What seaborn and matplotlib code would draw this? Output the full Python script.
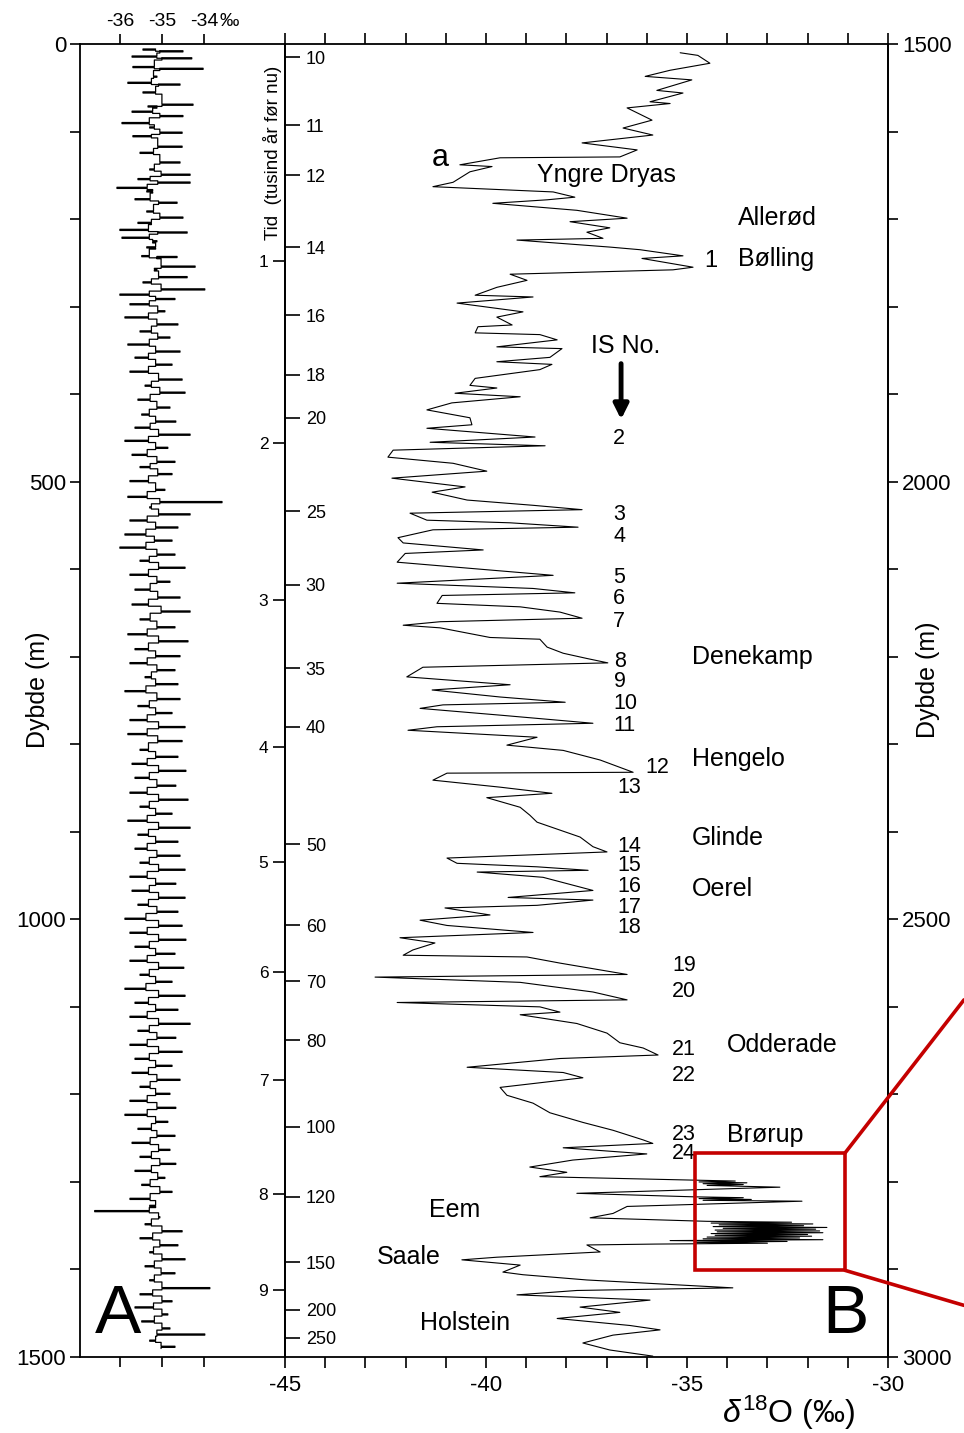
import numpy as np
import pandas as pd
import matplotlib
matplotlib.use("Agg")
import matplotlib.pyplot as plt
from matplotlib.patches import Rectangle
from matplotlib.ticker import MultipleLocator, NullLocator
import seaborn as sns

# ---------------- data: panel A (depth 0-1500 m) ----------------
# depth of each excursion, its extreme value and the central value of the trace there
a_depth = [7, 9, 15, 17, 27, 29, 38, 45, 47, 56,
           70, 72, 78, 83, 91, 96, 102, 106, 118, 125,
           136, 144, 150, 155, 159, 165, 169, 178, 182, 192,
           199, 205, 213, 216, 222, 226, 233, 243, 244, 255,
           258, 267, 273, 281, 287,
           292, 298, 306, 313, 321, 329, 336, 344, 352, 359,
           367, 375, 384, 391, 399, 407, 416, 424, 432, 439,
           447, 454, 462, 470, 478, 484, 492, 500, 510, 518,
           524, 530, 538, 545, 553, 561, 568, 576, 584, 591,
           599, 607, 615, 624, 633, 641, 649, 658, 667, 675,
           683, 692, 700, 708, 716, 724, 732, 740, 749, 757,
           765, 773, 781, 789, 797, 807, 815, 823, 831, 839,
           848, 856, 864, 872, 880, 888, 896, 904, 912, 920,
           928, 936, 944, 952, 960, 968, 976, 984, 992, 1000,
           1008, 1016, 1024, 1032, 1040, 1048, 1056, 1064, 1072, 1080,
           1088, 1096, 1104, 1112, 1120, 1128, 1136, 1144, 1152, 1160,
           1168, 1176, 1184, 1192, 1200, 1208, 1216, 1224, 1232, 1240,
           1248, 1256, 1264, 1272, 1280, 1288, 1296, 1304, 1312, 1320,
           1328, 1334, 1341, 1349, 1357, 1365, 1373, 1381, 1389, 1397,
           1405, 1413, 1422, 1429, 1437, 1444, 1452, 1460, 1468, 1475,
           1482, 1489]
a_value = [-35.45, -34.50, -35.71, -34.29, -35.69, -34.02, -35.12, -35.81, -34.57, -35.45,
           -34.26, -35.33, -35.71, -34.50, -35.95, -35.29, -34.52, -35.69, -34.52, -35.52,
           -34.57, -35.29, -34.33, -35.57, -34.33, -36.07, -35.36, -35.64, -34.64, -35.36,
           -34.50, -35.57, -36.00, -34.40, -35.95, -35.12, -35.36, -35.48, -34.64, -34.21,
           -35.12, -34.40, -35.45, -33.98, -36.00,
           -34.69, -35.76, -34.93, -35.88, -34.62, -35.52, -34.81, -35.81, -34.57, -35.64,
           -34.76, -35.76, -34.52, -35.40, -34.45, -35.57, -34.81, -35.48, -34.67, -35.64,
           -34.33, -35.88, -34.86, -35.71, -34.69, -35.52, -34.76, -35.76, -34.93, -35.81,
           -33.57, -35.29, -34.33, -35.76, -34.62, -35.88, -34.76, -36.00, -34.69, -35.52,
           -34.45, -35.76, -34.81, -35.64, -34.57, -35.71, -34.33, -35.52, -34.69, -35.81,
           -34.38, -35.64, -34.57, -35.76, -34.69, -35.40, -34.62, -35.88, -34.57, -35.57,
           -34.76, -35.76, -34.45, -35.81, -34.52, -35.52, -34.62, -35.71, -34.43, -35.64,
           -34.67, -35.76, -34.38, -35.52, -34.76, -35.81, -34.33, -35.57, -34.62, -35.64,
           -34.57, -35.52, -34.45, -35.76, -34.67, -35.71, -34.45, -35.57, -34.62, -35.88,
           -34.52, -35.76, -34.43, -35.64, -34.69, -35.76, -34.48, -35.52, -34.76, -35.88,
           -34.45, -35.64, -34.62, -35.76, -34.33, -35.57, -34.67, -35.76, -34.52, -35.64,
           -34.76, -35.71, -34.57, -35.52, -34.81, -35.76, -34.67, -35.88, -34.86, -35.57,
           -34.69, -35.71, -34.81, -35.52, -34.67, -35.64, -34.93, -35.48, -34.76, -35.76,
           -35.29, -36.60, -35.05, -35.40, -34.52, -35.52, -34.62, -35.29, -34.45, -35.40,
           -34.69, -35.29, -33.86, -35.52, -34.76, -35.64, -34.86, -35.48, -34.81, -33.98,
           -35.29, -34.69]
a_base = [-35.15, -35.05, -35.12, -35.00, -35.18, -35.05, -35.20, -35.25, -35.08, -35.15,
          -35.00, -35.12, -35.22, -35.05, -35.30, -35.18, -35.05, -35.25, -35.10, -35.20,
          -35.05, -35.18, -35.02, -35.28, -35.10, -35.35, -35.22, -35.28, -35.08, -35.20,
          -35.05, -35.25, -35.32, -35.10, -35.30, -35.22, -35.15, -35.30, -35.12, -35.02,
          -35.18, -35.08, -35.25, -35.02, -35.30,
          -35.15, -35.30, -35.10, -35.32, -35.12, -35.25, -35.10, -35.30, -35.15, -35.32,
          -35.15, -35.32, -35.08, -35.25, -35.05, -35.28, -35.12, -35.30, -35.15, -35.28,
          -35.08, -35.32, -35.15, -35.35, -35.12, -35.28, -35.10, -35.32, -35.15, -35.35,
          -35.05, -35.25, -35.08, -35.35, -35.15, -35.38, -35.18, -35.38, -35.12, -35.30,
          -35.08, -35.32, -35.12, -35.28, -35.10, -35.32, -35.02, -35.28, -35.12, -35.35,
          -35.08, -35.32, -35.15, -35.35, -35.12, -35.25, -35.15, -35.38, -35.12, -35.30,
          -35.15, -35.35, -35.08, -35.35, -35.10, -35.32, -35.15, -35.35, -35.08, -35.30,
          -35.12, -35.35, -35.08, -35.30, -35.15, -35.35, -35.08, -35.32, -35.15, -35.35,
          -35.12, -35.30, -35.08, -35.35, -35.15, -35.30, -35.08, -35.32, -35.12, -35.38,
          -35.08, -35.35, -35.08, -35.30, -35.15, -35.35, -35.08, -35.30, -35.15, -35.38,
          -35.08, -35.32, -35.15, -35.35, -35.08, -35.30, -35.12, -35.35, -35.08, -35.30,
          -35.15, -35.32, -35.12, -35.28, -35.15, -35.35, -35.12, -35.35, -35.15, -35.25,
          -35.12, -35.28, -35.08, -35.25, -35.05, -35.25, -35.10, -35.28, -35.05, -35.28,
          -35.15, -35.30, -35.08, -35.25, -35.00, -35.22, -35.05, -35.20, -35.00, -35.18,
          -35.02, -35.18, -35.00, -35.22, -35.00, -35.20, -35.00, -35.18, -35.00, -35.12,
          -35.15, -35.02]

# ---------------- data: panel B (depth 1500-3000 m) ----------------
b_depth = [1510, 1513, 1522, 1530, 1537, 1541, 1553, 1556, 1566, 1568,
           1573, 1587, 1596, 1604, 1613, 1621, 1629, 1630, 1638, 1640,
           1646, 1658, 1663, 1669, 1675, 1678, 1682, 1690, 1699, 1703,
           1710, 1715, 1722, 1724, 1732, 1735, 1742, 1745, 1755, 1758,
           1763, 1770, 1778, 1787, 1789, 1796, 1806, 1812, 1821, 1823,
           1830, 1832, 1838, 1846, 1848, 1858, 1863, 1866, 1872, 1882,
           1890, 1893, 1899, 1903, 1910, 1918, 1927, 1935, 1939, 1949,
           1955, 1959, 1964, 1972, 1979, 1988, 1996, 2006, 2012, 2021,
           2027, 2032, 2036, 2044, 2047, 2052, 2055, 2064, 2070, 2078,
           2082, 2092, 2099, 2107, 2116, 2122, 2127, 2130, 2139, 2143,
           2149, 2156, 2160, 2164, 2167, 2178, 2180, 2189, 2196, 2202,
           2207, 2212, 2223, 2232, 2238, 2246, 2252, 2255, 2259, 2267,
           2276, 2280, 2284, 2292, 2301, 2307, 2318, 2332, 2333, 2341,
           2349, 2356, 2361, 2372, 2381, 2389, 2398, 2406, 2417, 2423,
           2430, 2436, 2440, 2444, 2446, 2452, 2467, 2475, 2478, 2484,
           2487, 2495, 2501, 2507, 2515, 2521, 2527, 2535, 2541, 2543,
           2550, 2563, 2566, 2572, 2583, 2592, 2595, 2600, 2606, 2609,
           2619, 2630, 2641, 2647, 2655, 2659, 2669, 2675, 2681, 2692,
           2701, 2710, 2721, 2732, 2741, 2752, 2756, 2761, 2768, 2775,
           2783, 2789, 2794, 2798, 2799, 2800, 2801, 2802, 2803, 2804,
           2806, 2813, 2817, 2818, 2819, 2820, 2821, 2822, 2828, 2836,
           2841, 2845, 2846, 2847, 2848, 2849, 2850, 2851, 2852, 2853,
           2854, 2855, 2856, 2857, 2858, 2859, 2860, 2861, 2862, 2863,
           2864, 2865, 2866, 2867, 2868, 2869, 2870, 2871, 2872, 2880,
           2886, 2889, 2895, 2903, 2906, 2912, 2921, 2924, 2929, 2935,
           2943, 2949, 2956, 2964, 2969, 2975, 2984, 2992, 2999]
b_value = [-35.17, -34.73, -34.43, -35.42, -36.04, -34.88, -35.75, -35.10, -35.92, -35.42,
           -36.49, -35.87, -36.59, -35.85, -37.61, -36.24, -36.67, -39.65, -40.65, -39.85,
           -40.40, -40.82, -41.32, -38.33, -37.79, -38.48, -39.83, -37.74, -36.49, -37.91,
           -36.92, -37.49, -37.09, -39.23, -36.92, -36.17, -35.10, -36.12, -34.85, -35.35,
           -39.40, -38.98, -39.73, -40.27, -38.83, -40.72, -39.08, -39.73, -39.35, -40.20,
           -40.27, -38.66, -38.23, -39.73, -38.11, -38.41, -39.73, -38.36, -38.66, -40.27,
           -40.40, -39.73, -40.77, -39.15, -40.85, -41.47, -40.40, -40.35, -41.47, -38.78,
           -41.39, -38.53, -42.31, -42.44, -40.82, -39.98, -42.34, -40.52, -41.34, -40.47,
           -38.83, -37.61, -41.89, -41.47, -39.40, -37.71, -41.32, -42.19, -42.06, -40.07,
           -42.01, -42.21, -40.40, -38.33, -42.21, -38.83, -37.79, -41.09, -41.22, -39.15,
           -38.16, -37.61, -41.14, -42.06, -41.14, -39.90, -38.66, -38.48, -38.08, -37.49,
           -36.97, -41.57, -41.97, -39.40, -41.34, -39.65, -38.03, -41.07, -41.64, -39.58,
           -37.34, -41.22, -41.94, -38.73, -39.48, -38.08, -37.16, -36.34, -40.97, -41.32,
           -39.65, -38.36, -39.98, -39.15, -38.91, -38.73, -38.16, -37.66, -37.34, -36.99,
           -40.97, -40.72, -38.73, -37.46, -40.22, -38.58, -37.34, -39.45, -37.34, -38.73,
           -41.02, -39.90, -41.64, -40.97, -38.83, -42.14, -41.27, -41.82, -42.06, -38.98,
           -38.16, -36.49, -42.76, -39.15, -37.34, -36.49, -42.21, -38.66, -38.16, -39.15,
           -37.74, -36.99, -36.67, -36.09, -35.72, -38.16, -40.47, -38.08, -37.59, -39.65,
           -39.48, -38.83, -38.41, -37.59, -36.84, -36.09, -35.85, -38.08, -36.00, -37.84,
           -38.91, -37.99, -38.66, -34.85, -33.80, -34.70, -33.51, -34.60, -33.60, -34.50,
           -32.69, -37.74, -34.85, -33.60, -34.70, -33.40, -34.60, -32.14, -36.49, -36.84,
           -37.41, -34.50, -32.40, -34.40, -31.87, -34.20, -32.10, -34.35, -31.52, -34.10,
           -31.80, -34.30, -31.70, -34.25, -31.62, -34.40, -32.00, -34.30, -31.90, -34.50,
           -32.20, -34.60, -31.62, -35.42, -32.51, -34.80, -33.00, -35.80, -37.49, -37.16,
           -39.73, -40.60, -39.15, -39.58, -39.08, -37.49, -33.86, -37.74, -39.23, -35.92,
           -37.66, -36.67, -38.23, -36.42, -35.67, -36.84, -37.59, -36.92, -35.85]

# time scale (ka before present) placed at depth in panel B
time_labels = ["10", "11", "12", "14", "16", "18", "20", "25", "30", "35",
               "40", "50", "60", "70", "80", "100", "120", "150", "200", "250"]
time_depth = [1515, 1593, 1650, 1732, 1810, 1878, 1927, 2034, 2118, 2213,
              2280, 2414, 2507, 2571, 2638, 2737, 2817, 2892, 2946, 2978]

# second inner scale (1-9)
scale_labels = ["1", "2", "3", "4", "5", "6", "7", "8", "9"]
scale_depth = [1748, 1956, 2135, 2303, 2435, 2560, 2684, 2814, 2924]

# interstadial numbers
is_labels = ["2", "3", "4", "5", "6", "7", "8", "9", "10", "11", "12", "13",
             "14", "15", "16", "17", "18", "19", "20", "21", "22", "23", "24"]
is_x = [-36.84, -36.84, -36.84, -36.84, -36.84, -36.84, -36.82, -36.82, -36.82, -36.82,
        -36.04, -36.72, -36.72, -36.72, -36.72, -36.72, -36.72,
        -35.37, -35.37, -35.37, -35.37, -35.37, -35.37]
is_depth = [1951, 2037, 2063, 2109, 2134, 2160, 2205, 2228, 2253, 2278, 2327, 2349,
            2417, 2439, 2462, 2486, 2509, 2553, 2583, 2649, 2678, 2746, 2768]

# climate period names
period_names = ["Yngre Dryas", "Allerød", "Bølling", "Denekamp", "Hengelo", "Glinde",
                "Oerel", "Odderade", "Brørup", "Eem", "Saale", "Holstein"]
period_x = [-38.73, -33.73, -33.73, -34.88, -34.88, -34.88, -34.88, -34.00, -34.00,
            -41.42, -42.71, -41.64]
period_depth = [1650, 1699, 1746, 2200, 2317, 2407, 2465, 2644, 2746, 2832, 2886, 2961]

a_top_ticks = [-36, -35, -34]
a_top_labels = ["-36", "-35", "-34"]

zoom_box_x = [-34.80, -31.07]
zoom_box_depth = [2767, 2901]
zoom_lead_x = [-31.07, -28.11]
zoom_lead_top = [2767, 2592]
zoom_lead_bot = [2901, 2941]

# ---------------- styling ----------------
sns.set_style("ticks")
plt.rcParams["font.family"] = ["Liberation Sans", "DejaVu Sans"]
plt.rcParams["mathtext.fontset"] = "custom"
plt.rcParams["mathtext.rm"] = "Liberation Sans"
plt.rcParams["mathtext.it"] = "Liberation Sans:italic"
plt.rcParams["axes.edgecolor"] = "black"
plt.rcParams["axes.linewidth"] = 1.3
plt.rcParams["xtick.color"] = "black"
plt.rcParams["ytick.color"] = "black"
plt.rcParams["text.color"] = "black"
plt.rcParams["axes.labelcolor"] = "black"

W, H = 964, 1433
fig = plt.figure(figsize=(W / 100, H / 100), dpi=100)
L_A, R_A, R_B, TOP, BOT = 80, 285, 888, 44, 1357
axA = fig.add_axes([L_A / W, 1 - BOT / H, (R_A - L_A) / W, (BOT - TOP) / H])
axB = fig.add_axes([R_A / W, 1 - BOT / H, (R_B - R_A) / W, (BOT - TOP) / H])

# panel A trace: centre line with a short horizontal excursion at each read depth
half = 1.3
a_x, a_y = [], []
for d, v, b in zip(a_depth, a_value, a_base):
    a_x += [b, v, b]
    a_y += [d - half, d, d + half]
dfA = pd.DataFrame({"depth": a_y, "d18O": a_x})
dfB = pd.DataFrame({"depth": b_depth, "d18O": b_value})

sns.lineplot(data=dfA, x="d18O", y="depth", orient="y", sort=False, estimator=None,
             color="black", lw=0.9, drawstyle="steps-post", ax=axA)
sns.lineplot(data=dfB, x="d18O", y="depth", orient="y", sort=False, estimator=None,
             color="black", lw=0.8, ax=axB)

# ---------------- panel A axes ----------------
axA.set_xlim(-36.95, -32.07)
axA.set_ylim(1500, 0)
axA.set_xlabel("")
axA.set_yticks([0, 500, 1000, 1500])
axA.set_yticklabels(["0", "500", "1000", "1500"])
axA.yaxis.set_minor_locator(MultipleLocator(100))
axA.tick_params(axis="y", which="both", left=True, right=False, direction="out",
                length=7, width=1.2, labelsize=16, pad=3)
axA.set_xticks(a_top_ticks)
axA.set_xticklabels(a_top_labels)
axA.xaxis.set_minor_locator(NullLocator())
axA.tick_params(axis="x", which="both", top=True, bottom=True, labeltop=True,
                labelbottom=False, direction="out", length=7, width=1.2,
                labelsize=14, pad=3)
axA.annotate("‰", xy=(-33.64, 1.0), xycoords=("data", "axes fraction"),
             xytext=(0, 10), textcoords="offset points", ha="left", va="bottom",
             fontsize=14)
axA.set_ylabel("Dybde (m)", fontsize=18)
axA.yaxis.set_label_coords((38 - L_A) / (R_A - L_A), (BOT - 690) / (BOT - TOP))
axA.yaxis.label.set_verticalalignment("center")
axA.text((273 - L_A) / (R_A - L_A), (BOT - 153) / (BOT - TOP), "Tid  (tusind år før nu)",
         transform=axA.transAxes, rotation=90, ha="center", va="center", fontsize=13.5)
axA.text(-36.05, 1452, "A", fontsize=50, ha="center", va="center")

# ---------------- panel B axes ----------------
axB.set_xlim(-45, -30)
axB.set_ylim(3000, 1500)
axB.set_xticks([-45, -40, -35, -30])
axB.set_xticklabels(["-45", "-40", "-35", "-30"])
axB.xaxis.set_minor_locator(MultipleLocator(1))
axB.tick_params(axis="x", which="both", top=True, bottom=True, labeltop=False,
                labelbottom=True, direction="out", length=8, width=1.2,
                labelsize=16, pad=5)
axB.set_xlabel(r"$\delta^{18}$O (‰)", fontsize=23)
axB.xaxis.set_label_coords((788 - R_A) / (R_B - R_A), (BOT - 1413) / (BOT - TOP))
axB.xaxis.label.set_verticalalignment("center")

# inner time scale on left spine
axB.set_yticks(time_depth)
axB.set_yticklabels(time_labels)
axB.yaxis.set_minor_locator(NullLocator())
axB.tick_params(axis="y", which="major", left=True, right=False, direction="in",
                length=11, width=1.2, labelsize=13, pad=-15)
plt.setp(axB.get_yticklabels(), ha="left")
axB.set_ylabel("")

# 1-9 scale on the outer side of the same spine
sec_l = axB.secondary_yaxis("left")
sec_l.set_ticks(scale_depth, labels=scale_labels)
sec_l.yaxis.set_minor_locator(NullLocator())
sec_l.tick_params(axis="y", which="major", direction="out", length=9, width=1.2,
                  labelsize=12.5, pad=3)

# right depth axis
sec_r = axB.secondary_yaxis("right")
sec_r.set_ticks([1500, 2000, 2500, 3000], labels=["1500", "2000", "2500", "3000"])
sec_r.yaxis.set_minor_locator(MultipleLocator(100))
sec_r.tick_params(axis="y", which="both", direction="out", length=7, width=1.2,
                  labelsize=16, pad=3)
sec_r.set_ylabel("Dybde (m)", fontsize=18)
sec_r.yaxis.set_label_coords((928 - R_A) / (R_B - R_A), (BOT - 680) / (BOT - TOP),
                             transform=axB.transAxes)
sec_r.yaxis.label.set_verticalalignment("center")

# annotations in B
for name, x, d in zip(period_names, period_x, period_depth):
    axB.text(x, d, name, fontsize=18, ha="left", va="center")
for lab, x, d in zip(is_labels, is_x, is_depth):
    axB.text(x, d, lab, fontsize=15.5, ha="left", va="center")
axB.text(-41.14, 1630, "a", fontsize=22, ha="center", va="center")
axB.text(-34.40, 1748, "1", fontsize=17, ha="center", va="center")
axB.text(-37.39, 1845, "IS No.", fontsize=18, ha="left", va="center")
axB.annotate("", xy=(-36.64, 1932), xytext=(-36.64, 1862),
             arrowprops=dict(arrowstyle="-|>", lw=3.5, color="black", mutation_scale=22))
axB.text(-31.07, 2952, "B", fontsize=50, ha="center", va="center")

red = "#c40000"
axB.add_patch(Rectangle((zoom_box_x[0], zoom_box_depth[0]), zoom_box_x[1] - zoom_box_x[0],
                        zoom_box_depth[1] - zoom_box_depth[0], fill=False, ec=red, lw=2.6,
                        zorder=5))
axB.plot(zoom_lead_x, zoom_lead_top, color=red, lw=2.6, clip_on=False, zorder=5)
axB.plot(zoom_lead_x, zoom_lead_bot, color=red, lw=2.6, clip_on=False, zorder=5)

for ax in (axA, axB):
    for s in ax.spines.values():
        s.set_visible(True)
        s.set_color("black")
        s.set_linewidth(1.3)

fig.savefig("out.png", dpi=100)
